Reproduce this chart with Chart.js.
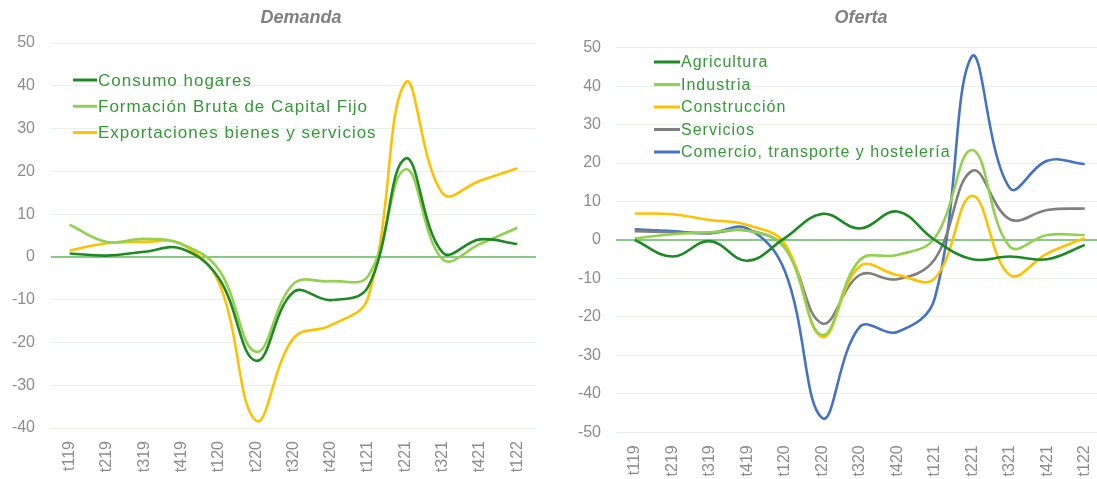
<!DOCTYPE html>
<html>
<head>
<meta charset="utf-8">
<script src="https://cdn.jsdelivr.net/npm/chart.js@4.4.1/dist/chart.umd.min.js"></script>
<style>
  html, body { margin: 0; padding: 0; background: #fff; overflow: hidden; }
  #wrap { position: relative; width: 1097px; height: 479px; overflow: hidden; }
  #demandaChart { position: absolute; left: 0; top: 0; }
  #ofertaChart { position: absolute; left: 550px; top: 0; }
</style>
</head>
<body>
<div id="wrap">
  <canvas id="demandaChart" width="550" height="479"></canvas>
  <canvas id="ofertaChart" width="570" height="479"></canvas>
</div>
<script>
// quarters on the x axis
const quarters = ['t119','t219','t319','t419','t120','t220','t320','t420','t121','t221','t321','t421','t122'];

// Demanda panel
const consumoHogares = [0.8, 0.3, 1.2, 1.9, -5, -24.3, -8.2, -10.1, -7, 23, 1, 4.1, 3];
const formacionBruta = [7.5, 3.5, 4.2, 3, -3, -22.2, -6.3, -5.7, -4.5, 20.5, -0.6, 3, 6.8];
const exportaciones  = [1.5, 3.2, 3.5, 3, -6, -38.3, -19, -16, -9.5, 40.7, 14.8, 17.8, 20.7];
const demandaRange = [-40, 50, 10]; // min, max, step

// Oferta panel
const agricultura  = [0, -4.3, -0.3, -5.4, 0.5, 6.8, 3, 7.4, 0, -5, -4.3, -5, -1.3];
const industria    = [0.4, 1.5, 2, 2.4, -2, -24.7, -5.2, -3.9, 0.5, 23.4, -1.7, 1.3, 1.3];
const construccion = [6.9, 6.7, 5.2, 3.9, -1, -25.2, -6.8, -9.1, -10, 11.5, -9.1, -3.5, 0.5];
const servicios    = [2.3, 2, 1.8, 2.5, -2, -21.7, -9.1, -10.2, -5, 18, 5.4, 7.8, 8.2];
const comercio     = [2.8, 2.3, 1.8, 3, -8, -46.3, -22.6, -23.9, -15.2, 47.9, 13.5, 20.6, 19.7];
const ofertaRange = [-50, 50, 10];

const FONT = '"Liberation Sans", Arial, sans-serif';
const DARK_GREEN = '#1f8a24';
const LIGHT_GREEN = '#92d050';
const AMBER = '#ffc000';
const GREY = '#7f7f7f';
const BLUE = '#4472c4';

// draws the panel title and the in-plot legend
const panelDecor = {
  id: 'panelDecor',
  afterDatasetsDraw(chart, args, opts) {
    const ctx = chart.ctx;
    ctx.save();
    ctx.font = `italic bold 18px ${FONT}`;
    ctx.fillStyle = '#808080';
    ctx.textAlign = 'center';
    ctx.textBaseline = 'middle';
    ctx.fillText(opts.title, opts.titleX, opts.titleY);

    ctx.font = `${opts.legendSize}px ${FONT}`;
    ctx.letterSpacing = '1px';
    ctx.textAlign = 'left';
    chart.data.datasets.forEach((ds, i) => {
      const y = opts.legendY + i * opts.legendRow;
      ctx.strokeStyle = ds.borderColor;
      ctx.lineWidth = 3;
      ctx.beginPath();
      ctx.moveTo(opts.legendX, y);
      ctx.lineTo(opts.legendX + opts.legendLine, y);
      ctx.stroke();
      ctx.fillStyle = '#339a36';
      ctx.fillText(ds.label, opts.legendX + opts.legendLine + 1, y + 1);
    });
    ctx.restore();
  }
};

function series(label, data, color) {
  return {
    label, data,
    borderColor: color,
    backgroundColor: color,
    borderWidth: 2.6,
    pointRadius: 0,
    tension: 0.4,
    fill: false
  };
}

function makePanel(id, datasets, range, geom, decor) {
  return new Chart(document.getElementById(id), {
    type: 'line',
    data: { labels: quarters, datasets },
    plugins: [panelDecor],
    options: {
      responsive: false,
      animation: false,
      layout: { padding: { top: geom.top, right: geom.right, left: 0, bottom: 0 } },
      plugins: {
        legend: { display: false },
        tooltip: { enabled: false },
        title: { display: false },
        panelDecor: decor
      },
      scales: {
        x: {
          offset: true,
          grid: { display: false, drawTicks: false },
          border: { display: false },
          ticks: {
            color: '#8c8c8c',
            font: { family: FONT, size: 16 },
            minRotation: 90,
            maxRotation: 90,
            padding: geom.xPad,
            autoSkip: false
          },
          afterFit: s => { s.height = geom.xHeight; }
        },
        y: {
          min: range[0],
          max: range[1],
          grid: {
            drawTicks: false,
            color: c => c.tick.value === 0 ? '#86c886' : '#e6f2e6',
            lineWidth: c => c.tick.value === 0 ? 2 : 1
          },
          border: { display: false },
          ticks: {
            stepSize: range[2],
            color: '#8c8c8c',
            font: { family: FONT, size: 16 },
            padding: geom.yPad
          },
          afterFit: s => { s.width = geom.yWidth; }
        }
      }
    }
  });
}

makePanel('demandaChart', [
  series('Consumo hogares', consumoHogares, DARK_GREEN),
  series('Formación Bruta de Capital Fijo', formacionBruta, LIGHT_GREEN),
  series('Exportaciones bienes y servicios', exportaciones, AMBER)
], demandaRange,
  { top: 43, right: 13, yWidth: 51, yPad: 16, xHeight: 51, xPad: 13 },
  { title: 'Demanda', titleX: 301, titleY: 18, legendX: 73, legendY: 80, legendRow: 26.3, legendLine: 24, legendSize: 17 });

makePanel('ofertaChart', [
  series('Agricultura', agricultura, DARK_GREEN),
  series('Industria', industria, LIGHT_GREEN),
  series('Construcción', construccion, AMBER),
  series('Servicios', servicios, GREY),
  series('Comercio, transporte y hostelería', comercio, BLUE)
], ofertaRange,
  { top: 47.7, right: 16.5, yWidth: 66, yPad: 15, xHeight: 46.7, xPad: 13 },
  { title: 'Oferta', titleX: 311, titleY: 18, legendX: 104, legendY: 62, legendRow: 22.5, legendLine: 26, legendSize: 16 });
</script>
</body>
</html>
